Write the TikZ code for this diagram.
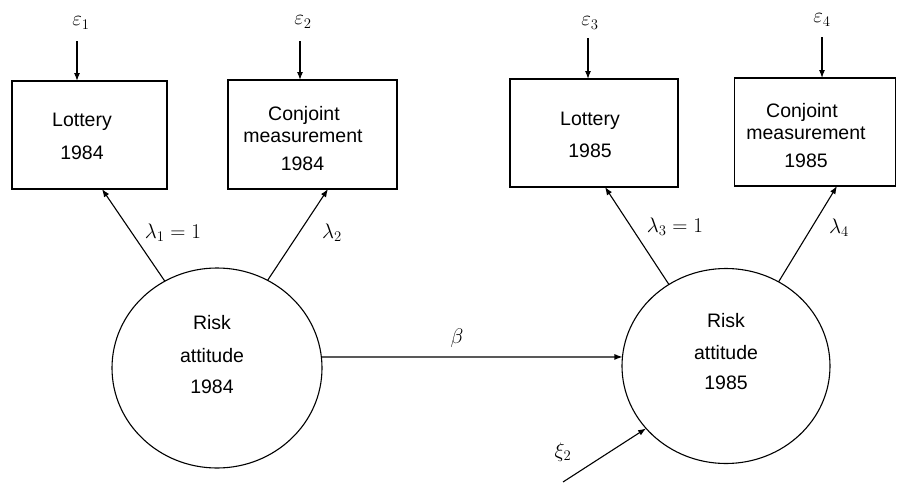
\documentclass[tikz,border=0pt]{standalone}
\usepackage{fix-cm}
\usepackage{fontspec}
\setmainfont{Liberation Sans}
\usetikzlibrary{arrows.meta,shapes.geometric,calc}
\begin{document}
\begin{tikzpicture}[x=1pt,y=-1pt,
  lw/.style={line width=1.1pt},
  box/.style={draw, lw, rectangle, inner sep=0pt, outer sep=0pt},
  blob/.style={draw, lw, ellipse, inner sep=0pt, outer sep=0pt},
  txt/.style={font=\fontsize{19.5}{23}\selectfont, inner sep=0pt, anchor=base},
  sym/.style={font=\fontsize{21}{25}\selectfont, inner sep=0pt},
  arr/.style={lw, -{Latex[length=8pt,width=6pt]}}
]
\fill[white] (0,0) rectangle (897,482);
\path[use as bounding box] (0,0) rectangle (897,482);

% boxes
\node[box, minimum width=155pt, minimum height=108pt] (b1) at (89.5,135) {};
\node[box, minimum width=169pt, minimum height=109pt] (b2) at (312.5,134.5) {};
\node[box, minimum width=168pt, minimum height=108pt] (b3) at (594,133) {};
\node[box, minimum width=161pt, minimum height=108pt] (b4) at (815,132) {};

\node[txt] (t1a) at (82,126) {Lottery};
\node[txt] (t1b) at (82,159) {1984};
\node[txt] (t2a) at (304,120) {Conjoint};
\node[txt] (t2b) at (303,142.5) {measurement};
\node[txt] (t2c) at (302.5,170) {1984};
\node[txt] (t3a) at (590,125) {Lottery};
\node[txt] (t3b) at (590,157) {1985};
\node[txt] (t4a) at (802,117) {Conjoint};
\node[txt] (t4b) at (806,139) {measurement};
\node[txt] (t4c) at (806,167) {1985};

% latent variables
\node[blob, minimum width=210pt, minimum height=200pt] (c1) at (217,368) {};
\node[blob, minimum width=208pt, minimum height=195pt] (c2) at (726,366) {};

\node[txt] (r1a) at (212,329) {Risk};
\node[txt] (r1b) at (212,362) {attitude};
\node[txt] (r1c) at (212,393) {1984};
\node[txt] (r2a) at (726,327) {Risk};
\node[txt] (r2b) at (726,359) {attitude};
\node[txt] (r2c) at (726,389) {1985};

% error terms
\node[sym] (e1) at (81,23) {$\varepsilon_1$};
\node[sym] (e2) at (303,22) {$\varepsilon_2$};
\node[sym] (e3) at (590,23) {$\varepsilon_3$};
\node[sym] (e4) at (822,20) {$\varepsilon_4$};
\coordinate (e1s) at (77,41);
\coordinate (e2s) at (300,41);
\coordinate (e3s) at (588,38);
\coordinate (e4s) at (822,37);
\draw[arr] (e1s) -- (e1s |- b1.north);
\draw[arr] (e2s) -- (e2s |- b2.north);
\draw[arr] (e3s) -- (e3s |- b3.north);
\draw[arr] (e4s) -- (e4s |- b4.north);

% loadings
\draw[arr] (c1.121) -- ([xshift=12.5pt]b1.south);
\draw[arr] (c1.60) -- ([xshift=15.5pt]b2.south);
\draw[arr] (c2.125) -- ([xshift=11pt]b3.south);
\draw[arr] (c2.58) -- ([xshift=22pt]b4.south);
\node[sym] (l1) at (173,233) {$\lambda_1 = 1$};
\node[sym] (l2) at (332,233) {$\lambda_2$};
\node[sym] (l3) at (675,227) {$\lambda_3 = 1$};
\node[sym] (l4) at (839,228) {$\lambda_4$};

% structural path
\draw[arr] (c1.6) -- (c2.175);
\node[sym] (beta) at (457,338) {$\beta$};

\coordinate (xis) at (563,482);
\draw[arr] (xis) -- (c2.218);
\node[sym] (xi) at (563,452) {$\xi_2$};
\end{tikzpicture}
\end{document}
